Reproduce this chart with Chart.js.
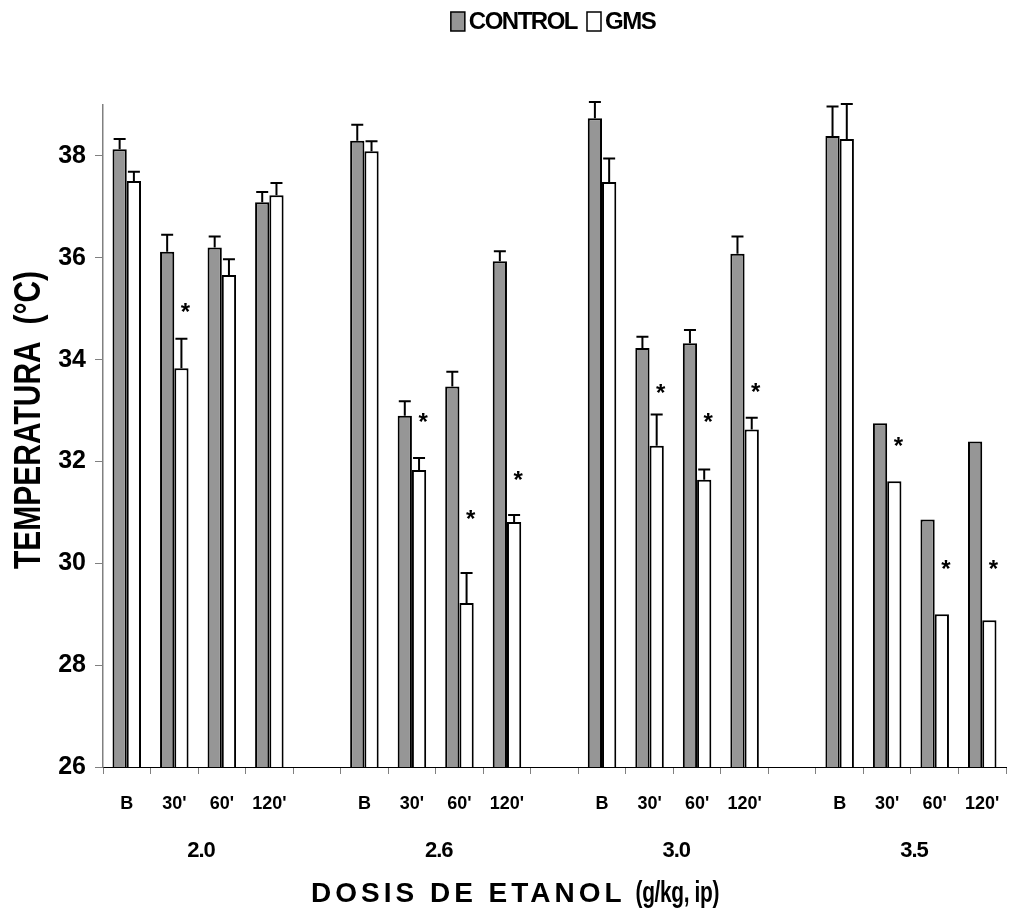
<!DOCTYPE html>
<html>
<head>
<meta charset="utf-8">
<script src="https://cdn.jsdelivr.net/npm/chart.js@4.4.0/dist/chart.umd.min.js"></script>
<style>
  body { margin: 0; background: #fff; }
  #wrap { width: 1010px; height: 920px; }
</style>
</head>
<body>
<div id="wrap"><canvas id="tempChart" width="1010" height="920"></canvas></div>
<script>
// time points per dose, empty slots separate the dose groups
const timeLabels = ['B', "30'", "60'", "120'", '', 'B', "30'", "60'", "120'", '', 'B', "30'", "60'", "120'", '', 'B', "30'", "60'", "120'"];
const doseLabels = ['2.0', '2.6', '3.0', '3.5'];

const controlValues = [38.13, 36.12, 36.20, 37.09, null, 38.30, 32.90, 33.47, 35.93, null, 38.74, 34.23, 34.32, 36.08, null, 38.39, 32.75, 30.86, 32.39];
const gmsValues     = [37.51, 33.83, 35.66, 37.23, null, 38.09, 31.83, 29.22, 30.81, null, 37.49, 32.31, 31.64, 32.63, null, 38.33, 31.61, 29.00, 28.88];
const controlErr    = [0.20, 0.33, 0.22, 0.20, null, 0.31, 0.28, 0.29, 0.20, null, 0.32, 0.22, 0.26, 0.34, null, 0.58, 0, 0, 0];
const gmsErr        = [0.18, 0.58, 0.31, 0.24, null, 0.20, 0.24, 0.59, 0.14, null, 0.46, 0.61, 0.20, 0.23, null, 0.69, 0, 0, 0];
// where the significance asterisk sits (temperature units)
const starValues    = [null, 35.03, null, null, null, null, 32.86, 30.96, 31.72, null, null, 33.43, 32.86, 33.45, null, null, 32.40, 29.97, 29.97];

const FONT = "'Liberation Sans', Arial, sans-serif";

function drawText(ctx, str, x, y, opts) {
  ctx.save();
  ctx.font = 'bold ' + opts.size + 'px ' + FONT;
  ctx.letterSpacing = (opts.spacing || 0) + 'px';
  ctx.fillStyle = '#000';
  ctx.textAlign = opts.align || 'left';
  ctx.textBaseline = 'middle';
  ctx.translate(x, y);
  if (opts.rotate) ctx.rotate(opts.rotate);
  ctx.scale(opts.sx || 1, opts.sy || 1);
  ctx.fillText(str, 0, 0);
  ctx.restore();
}

function textWidth(ctx, str, size, spacing) {
  ctx.save();
  ctx.font = 'bold ' + size + 'px ' + FONT;
  ctx.letterSpacing = (spacing || 0) + 'px';
  const w = ctx.measureText(str).width;
  ctx.restore();
  return w;
}

const extras = {
  id: 'extras',
  afterDatasetsDraw(chart) {
    const ctx = chart.ctx;
    const y = chart.scales.y;
    const errs = [controlErr, gmsErr];
    ctx.save();
    ctx.strokeStyle = '#000';
    ctx.lineWidth = 2;
    [0, 1].forEach(d => {
      chart.getDatasetMeta(d).data.forEach((bar, i) => {
        const e = errs[d][i];
        if (!e) return;
        const v = chart.data.datasets[d].data[i];
        const top = y.getPixelForValue(v + e);
        ctx.beginPath();
        ctx.moveTo(bar.x, bar.y);
        ctx.lineTo(bar.x, top);
        ctx.moveTo(bar.x - 6, top);
        ctx.lineTo(bar.x + 6, top);
        ctx.stroke();
      });
    });
    // asterisks
    ctx.font = 'bold 24px ' + FONT;
    ctx.fillStyle = '#000';
    ctx.textAlign = 'center';
    ctx.textBaseline = 'alphabetic';
    const m = ctx.measureText('*');
    const shift = (m.actualBoundingBoxAscent - m.actualBoundingBoxDescent) / 2;
    const gmsBars = chart.getDatasetMeta(1).data;
    starValues.forEach((s, i) => {
      if (s == null) return;
      ctx.fillText('*', gmsBars[i].x + 4, y.getPixelForValue(s) + shift);
    });
    ctx.restore();
  },
  afterDraw(chart) {
    const ctx = chart.ctx;
    const x = chart.scales.x;

    // dose group labels
    doseLabels.forEach((lab, g) => {
      const cx = (x.getPixelForValue(g * 5 + 1) + x.getPixelForValue(g * 5 + 2)) / 2;
      drawText(ctx, lab, cx + 3, 851, { size: 22, spacing: -1, align: 'center' });
    });

    // x title: spaced words then squeezed units
    const part1 = 'DOSIS DE ETANOL';
    const part2 = '(g/kg, ip)';
    const w1 = textWidth(ctx, part1, 28, 4);
    const w2 = textWidth(ctx, part2, 29, -0.5) * 0.72;
    const gap = 10;
    const start = 515 - (w1 + gap + w2) / 2;
    drawText(ctx, part1, start, 894, { size: 28, spacing: 4 });
    drawText(ctx, part2, start + w1 + gap, 894, { size: 29, spacing: -0.5, sx: 0.72 });

    // y title
    drawText(ctx, 'TEMPERATURA  (°C)', 30, 420, { size: 30, align: 'center', rotate: -Math.PI / 2, sy: 1.25 });

    // legend
    const items = chart.data.datasets.map(ds => ({ label: ds.label, color: ds.backgroundColor }));
    const boxW = 14, boxH = 19, pad = 4, between = 10;
    const widths = items.map(it => textWidth(ctx, it.label, 24, -1.5));
    let total = 0;
    widths.forEach((w, i) => { total += boxW + pad + w + (i < items.length - 1 ? between : 0); });
    let lx = 553 - total / 2;
    items.forEach((it, i) => {
      ctx.save();
      ctx.fillStyle = it.color;
      ctx.strokeStyle = '#000';
      ctx.lineWidth = 1.5;
      ctx.fillRect(lx, 12, boxW, boxH);
      ctx.strokeRect(lx, 12, boxW, boxH);
      ctx.restore();
      lx += boxW + pad;
      drawText(ctx, it.label, lx, 22, { size: 24, spacing: -1.5 });
      lx += widths[i] + between;
    });
  }
};

new Chart(document.getElementById('tempChart'), {
  type: 'bar',
  data: {
    labels: timeLabels,
    datasets: [
      {
        label: 'CONTROL',
        data: controlValues,
        backgroundColor: '#969696',
        borderColor: '#000',
        borderWidth: 2,
        borderSkipped: false
      },
      {
        label: 'GMS',
        data: gmsValues,
        backgroundColor: '#ffffff',
        borderColor: '#000',
        borderWidth: 2,
        borderSkipped: false
      }
    ]
  },
  options: {
    responsive: false,
    animation: false,
    datasets: { bar: { barPercentage: 1.0, categoryPercentage: 0.6 } },
    layout: { padding: { top: 105, right: 4, bottom: 0, left: 0 } },
    plugins: {
      legend: { display: false },
      tooltip: { enabled: false }
    },
    scales: {
      x: {
        grid: { drawOnChartArea: false, drawTicks: true, tickLength: 7, color: '#808080', offset: true },
        border: { color: '#000', width: 1 },
        ticks: {
          autoSkip: false, maxRotation: 0, padding: 19, color: '#000',
          font: { family: FONT, size: 18, weight: 'bold' }
        },
        afterFit: s => { s.height = 153; s.paddingLeft = 0; s.paddingRight = 0; }
      },
      y: {
        min: 26,
        max: 39,
        grid: { drawOnChartArea: false, drawTicks: true, tickLength: 8, color: '#808080' },
        border: { color: '#808080', width: 1.5 },
        ticks: {
          stepSize: 2, includeBounds: false, padding: 9, color: '#000',
          font: { family: FONT, size: 25, weight: 'bold' }
        },
        afterBuildTicks: s => { s.ticks = s.ticks.filter(t => t.value <= 38); },
        afterFit: s => { s.width = 103; }
      }
    }
  },
  plugins: [extras]
});
</script>
</body>
</html>
